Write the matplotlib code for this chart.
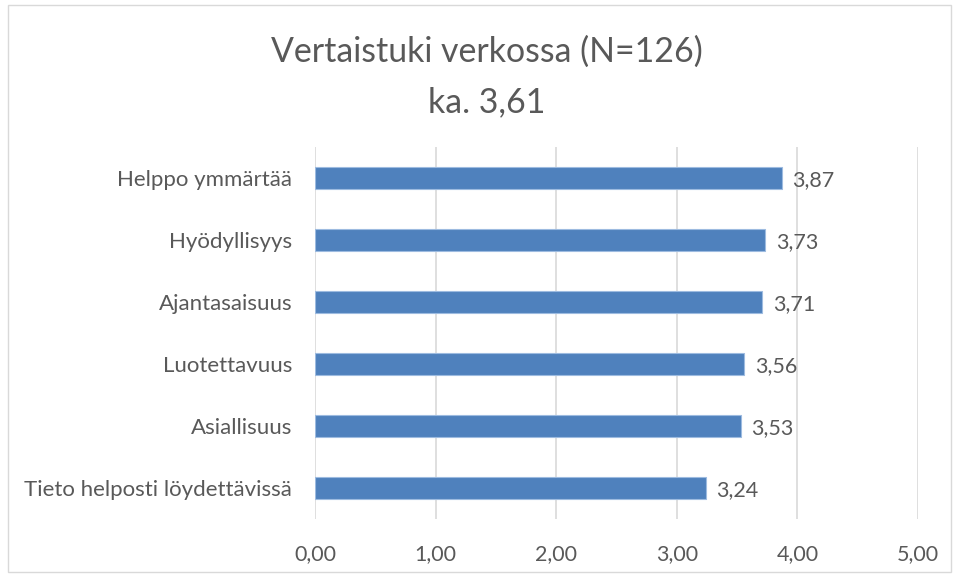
import matplotlib
matplotlib.use("Agg")
import matplotlib.pyplot as plt
from matplotlib.patches import Rectangle

categories = ["Helppo ymmärtää", "Hyödyllisyys", "Ajantasaisuus", "Luotettavuus",
              "Asiallisuus", "Tieto helposti löydettävissä"]
values = [3.87, 3.73, 3.71, 3.56, 3.53, 3.24]
xticks = [0, 1, 2, 3, 4, 5]
title = "Vertaistuki verkossa (N=126)\nka. 3,61"

plt.rcParams['font.family'] = ['Lato', 'DejaVu Sans']
txt = "#595959"

fig = plt.figure(figsize=(9.59, 5.78), dpi=100)
fig.patches.append(Rectangle((8/959, 1-572/578), 943/959, 567/578, transform=fig.transFigure,
                             fill=False, edgecolor="#d9d9d9", linewidth=1))
ax = fig.add_axes([315/959, 1-519/578, 603/959, 372/578])

ypos = list(range(len(categories)))
ax.barh(ypos, values, height=0.36, color="#4f81bd", edgecolor="#9dbbe0", linewidth=0.8, zorder=3)
for y, v in zip(ypos, values):
    ax.text(v + 0.09, y + 0.04, f"{v:.2f}".replace(".", ","), va="center", ha="left",
            fontsize=15.5, color=txt)

ax.set_xlim(0, 5)
ax.set_ylim(len(categories) - 0.5, -0.5)
ax.set_xticks(xticks)
ax.set_xticklabels([f"{t:.2f}".replace(".", ",") for t in xticks], fontsize=15.5, color=txt)
ax.set_yticks(ypos)
ax.set_yticklabels(categories, fontsize=16, color=txt)
ax.tick_params(axis='y', length=0, pad=16.5)
ax.tick_params(axis='x', length=0, pad=18)
ax.grid(axis='x', color="#d9d9d9", linewidth=1.2, zorder=0)
for s in ax.spines.values():
    s.set_visible(False)

fig.text(487/959, 1-77/578, title, ha="center", va="center", fontsize=24.4, color=txt,
         linespacing=1.7)

fig.savefig("out.png", dpi=100)
